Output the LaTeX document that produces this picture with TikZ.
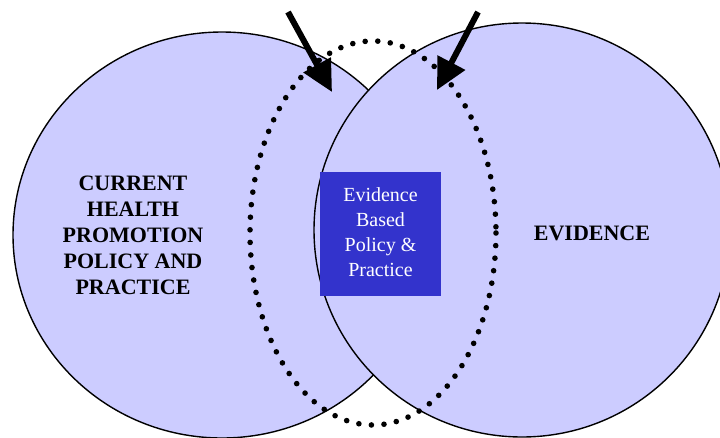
\documentclass[tikz,border=0pt]{standalone}
\usepackage{fontspec}
\setmainfont{Liberation Serif}
\usetikzlibrary{positioning, arrows.meta, shapes.geometric}
\definecolor{vennfill}{RGB}{204,204,255}
\definecolor{boxblue}{RGB}{51,51,204}
\tikzset{venn/.style={draw=black, line width=1.4pt, fill=vennfill}}
\tikzset{dotring/.style={draw=black, line width=5.6pt, line cap=round, dash pattern=on 0pt off 12.6pt}}
\tikzset{arr/.style={draw, line width=6pt, -{Triangle[length=31pt, width=30pt]}}}
\tikzset{lbl/.style={font=\fontsize{22}{26}\selectfont\bfseries, align=center, inner sep=0pt}}
\tikzset{ebox/.style={fill=boxblue, text=white, minimum width=121pt, minimum height=124pt, inner sep=0pt, align=center, font=\fontsize{20}{25}\selectfont}}

\begin{document}
\begin{tikzpicture}[x=1pt, y=-1pt]
			\clip (0,0) rectangle (720,437);
			\fill[white] (0,0) rectangle (720,437);
			%
			\draw[venn] (222,235) ellipse [x radius=209, y radius=203];
			\draw[venn] (522,230) ellipse [x radius=208, y radius=207];
			\draw[dotring] (373,233) ellipse [x radius=123, y radius=192];
			%
			\node[lbl] (chp) at (133,235) {CURRENT\\HEALTH\\PROMOTION\\POLICY AND\\PRACTICE};
			\node[lbl] (evd) at (592,233) {EVIDENCE};
			\node[ebox] (ebp) at (380.5,234) {\raisebox{3pt}{\begin{tabular}{@{}c@{}}Evidence\\Based\\Policy \&\\Practice\end{tabular}}};
			%
			\coordinate (la) at (288,12);
			\coordinate (lt) at (332,92);
			\coordinate (ra) at (478,12);
			\coordinate (rt) at (437,90);
			\draw[arr] (la) -- (lt);
			\draw[arr] (ra) -- (rt);
		\end{tikzpicture}
\end{document}
